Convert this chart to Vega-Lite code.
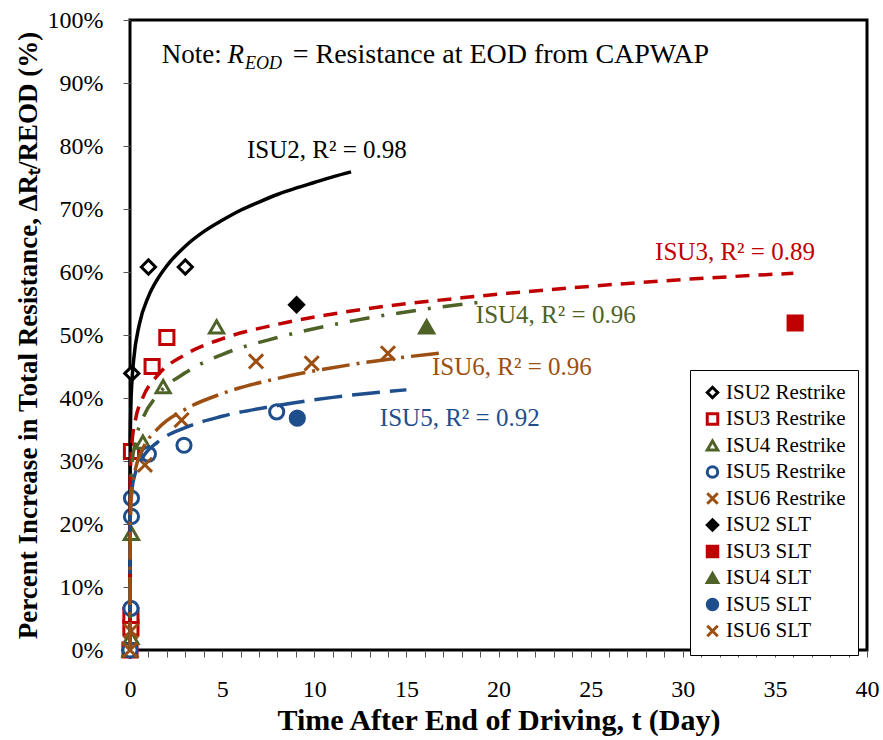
{
  "$schema": "https://vega.github.io/schema/vega-lite/v6.json",
  "width": 737,
  "height": 630,
  "autosize": {"type": "none"},
  "padding": {"left": 130, "top": 20, "right": 16, "bottom": 90},
  "background": "white",
  "config": {
    "font": "Liberation Serif",
    "style": {"guide-label": {"font": "Liberation Serif"}, "guide-title": {"font": "Liberation Serif"}},
    "view": {"stroke": "black", "strokeWidth": 3},
    "axis": {"domain": false, "grid": false, "labelColor": "black", "titleColor": "black", "tickColor": "#555", "tickSize": 7, "labelFontSize": 24, "titleFontWeight": "bold", "labelFont": "Liberation Serif", "titleFont": "Liberation Serif"},
    "legend": {"labelFont": "Liberation Serif", "titleFont": "Liberation Serif", "labelFontSize": 21, "labelColor": "black", "symbolSize": 110, "symbolStrokeWidth": 3, "rowPadding": 3.5, "labelOffset": 3, "padding": 12, "strokeColor": "black", "fillColor": "white"}
  },
  "datasets": {
    "pts": [
      {"t": 0, "r": 0, "s": "ISU2 Restrike"},
      {"t": 0.1, "r": 43.9, "s": "ISU2 Restrike"},
      {"t": 1.0, "r": 60.8, "s": "ISU2 Restrike"},
      {"t": 3.0, "r": 60.8, "s": "ISU2 Restrike"},
      {"t": 0, "r": 0, "s": "ISU3 Restrike"},
      {"t": 0.05, "r": 3.5, "s": "ISU3 Restrike"},
      {"t": 0.05, "r": 5.5, "s": "ISU3 Restrike"},
      {"t": 0.08, "r": 31.5, "s": "ISU3 Restrike"},
      {"t": 1.2, "r": 45.0, "s": "ISU3 Restrike"},
      {"t": 2.0, "r": 49.6, "s": "ISU3 Restrike"},
      {"t": 0, "r": 0, "s": "ISU4 Restrike"},
      {"t": 0.05, "r": 2.0, "s": "ISU4 Restrike"},
      {"t": 0.08, "r": 18.5, "s": "ISU4 Restrike"},
      {"t": 0.7, "r": 33.0, "s": "ISU4 Restrike"},
      {"t": 1.8, "r": 41.8, "s": "ISU4 Restrike"},
      {"t": 4.7, "r": 51.3, "s": "ISU4 Restrike"},
      {"t": 0, "r": 0, "s": "ISU5 Restrike"},
      {"t": 0.05, "r": 6.6, "s": "ISU5 Restrike"},
      {"t": 0.08, "r": 21.2, "s": "ISU5 Restrike"},
      {"t": 0.08, "r": 24.1, "s": "ISU5 Restrike"},
      {"t": 1.0, "r": 31.1, "s": "ISU5 Restrike"},
      {"t": 2.93, "r": 32.5, "s": "ISU5 Restrike"},
      {"t": 7.96, "r": 37.8, "s": "ISU5 Restrike"},
      {"t": 0, "r": 0, "s": "ISU6 Restrike"},
      {"t": 0.05, "r": 3.0, "s": "ISU6 Restrike"},
      {"t": 0.81, "r": 29.4, "s": "ISU6 Restrike"},
      {"t": 2.8, "r": 36.5, "s": "ISU6 Restrike"},
      {"t": 6.84, "r": 45.8, "s": "ISU6 Restrike"},
      {"t": 9.86, "r": 45.5, "s": "ISU6 Restrike"},
      {"t": 9.04, "r": 54.8, "s": "ISU2 SLT"},
      {"t": 36.1, "r": 51.9, "s": "ISU3 SLT"},
      {"t": 16.1, "r": 51.3, "s": "ISU4 SLT"},
      {"t": 9.08, "r": 36.8, "s": "ISU5 SLT"},
      {"t": 14.0, "r": 47.1, "s": "ISU6 SLT"}
    ],
    "fit2": [
      {"t": 0, "r": 0}, {"t": 0.0001, "r": 18.3}, {"t": 0.001, "r": 24.2}, {"t": 0.01, "r": 32.0}, {"t": 0.05, "r": 39.0}, {"t": 0.1, "r": 42.4}, {"t": 0.2, "r": 46.1}, {"t": 0.5, "r": 51.6}, {"t": 1, "r": 56.1}, {"t": 1.5, "r": 58.9}, {"t": 2, "r": 61.0}, {"t": 3, "r": 64.1}, {"t": 4, "r": 66.4}, {"t": 5, "r": 68.2}, {"t": 6, "r": 69.8}, {"t": 7, "r": 71.1}, {"t": 8, "r": 72.3}, {"t": 9, "r": 73.3}, {"t": 10, "r": 74.2}, {"t": 11, "r": 75.1}, {"t": 12, "r": 75.9}
    ],
    "fit3": [
      {"t": 0, "r": 0}, {"t": 0.0001, "r": 16.5}, {"t": 0.001, "r": 20.8}, {"t": 0.01, "r": 26.2}, {"t": 0.05, "r": 30.6}, {"t": 0.1, "r": 32.7}, {"t": 0.3, "r": 36.6}, {"t": 0.7, "r": 40.1}, {"t": 1.5, "r": 43.6}, {"t": 3, "r": 46.9}, {"t": 5, "r": 49.4}, {"t": 8, "r": 51.7}, {"t": 12, "r": 53.8}, {"t": 18, "r": 55.9}, {"t": 24, "r": 57.5}, {"t": 30, "r": 58.8}, {"t": 36, "r": 59.8}
    ],
    "fit4": [
      {"t": 0, "r": 0}, {"t": 0.0001, "r": 12.5}, {"t": 0.001, "r": 16.5}, {"t": 0.01, "r": 21.9}, {"t": 0.05, "r": 26.7}, {"t": 0.1, "r": 29.1}, {"t": 0.3, "r": 33.2}, {"t": 0.7, "r": 36.8}, {"t": 1.5, "r": 40.5}, {"t": 3, "r": 44.0}, {"t": 5, "r": 46.9}, {"t": 8, "r": 49.6}, {"t": 12, "r": 52.2}, {"t": 16, "r": 54.1}, {"t": 19, "r": 55.2}
    ],
    "fit5": [
      {"t": 0, "r": 0}, {"t": 0.0001, "r": 12.9}, {"t": 0.001, "r": 16.1}, {"t": 0.01, "r": 20.2}, {"t": 0.05, "r": 23.6}, {"t": 0.1, "r": 25.3}, {"t": 0.3, "r": 28.2}, {"t": 0.7, "r": 30.6}, {"t": 1.5, "r": 33.0}, {"t": 3, "r": 35.3}, {"t": 5, "r": 37.1}, {"t": 8, "r": 38.8}, {"t": 11, "r": 40.1}, {"t": 15, "r": 41.3}
    ],
    "fit6": [
      {"t": 0, "r": 0}, {"t": 0.0001, "r": 10.8}, {"t": 0.001, "r": 14.4}, {"t": 0.01, "r": 19.0}, {"t": 0.05, "r": 23.1}, {"t": 0.1, "r": 25.2}, {"t": 0.3, "r": 28.8}, {"t": 0.7, "r": 32.0}, {"t": 1.5, "r": 35.1}, {"t": 3, "r": 38.2}, {"t": 5, "r": 40.7}, {"t": 8, "r": 43.1}, {"t": 12, "r": 45.3}, {"t": 17, "r": 47.2}
    ],
    "one": [{"k": 1}]
  },
  "layer": [
    {
      "data": {"name": "pts"},
      "mark": {"type": "point", "filled": false, "strokeWidth": 3, "size": 200, "opacity": 1},
      "encoding": {
        "x": {"field": "t", "type": "quantitative", "scale": {"domain": [0, 40], "nice": false}, "axis": {"title": "Time After End of Driving, t (Day)", "titleFontSize": 30, "values": [0,1,2,3,4,5,6,7,8,9,10,11,12,13,14,15,16,17,18,19,20,21,22,23,24,25,26,27,28,29,30,31,32,33,34,35,36,37,38,39,40], "labelExpr": "datum.value % 5 === 0 ? datum.label : ''", "labelPadding": 20, "titlePadding": 4, "labelFlush": false}},
        "y": {"field": "r", "type": "quantitative", "scale": {"domain": [0, 100], "nice": false}, "axis": {"title": "Percent Increase in Total Resistance, ΔRₜ/REOD (%)", "titleFontSize": 27, "values": [0,10,20,30,40,50,60,70,80,90,100], "labelExpr": "datum.value + '%'", "labelPadding": 20, "titlePadding": 5, "labelFlush": false}},
        "shape": {"field": "s", "type": "nominal", "title": null,
          "scale": {"domain": ["ISU2 Restrike", "ISU3 Restrike", "ISU4 Restrike", "ISU5 Restrike", "ISU6 Restrike", "ISU2 SLT", "ISU3 SLT", "ISU4 SLT", "ISU5 SLT", "ISU6 SLT"],
            "range": ["diamond", "square", "triangle-up", "circle", "M-1,-1L1,1M-1,1L1,-1", "diamond", "square", "triangle-up", "circle", "M-1,-1L1,1M-1,1L1,-1"]},
          "legend": {"orient": "none", "legendX": 560, "legendY": 350, "labelFont": "Liberation Serif", "labelFontSize": 21}},
        "color": {"field": "s", "type": "nominal", "title": null,
          "scale": {"domain": ["ISU2 Restrike", "ISU3 Restrike", "ISU4 Restrike", "ISU5 Restrike", "ISU6 Restrike", "ISU2 SLT", "ISU3 SLT", "ISU4 SLT", "ISU5 SLT", "ISU6 SLT"],
            "range": ["#000000", "#C00000", "#4F6228", "#1F4E8C", "#9C4F12", "#000000", "#C00000", "#4F6228", "#1F4E8C", "#9C4F12"]},
          "legend": {"orient": "none", "legendX": 560, "legendY": 350, "labelFont": "Liberation Serif", "labelFontSize": 21}},
        "fill": {"field": "s", "type": "nominal", "title": null,
          "scale": {"domain": ["ISU2 Restrike", "ISU3 Restrike", "ISU4 Restrike", "ISU5 Restrike", "ISU6 Restrike", "ISU2 SLT", "ISU3 SLT", "ISU4 SLT", "ISU5 SLT", "ISU6 SLT"],
            "range": ["#ffffff", "#ffffff", "#ffffff", "#ffffff", "#ffffff", "#000000", "#C00000", "#4F6228", "#1F4E8C", "#9C4F12"]},
          "legend": {"orient": "none", "legendX": 560, "legendY": 350, "labelFont": "Liberation Serif", "labelFontSize": 21}}
      }
    },
    {"data": {"name": "fit2"}, "mark": {"type": "line", "stroke": "#000000", "strokeWidth": 3.5, "interpolate": "monotone"}, "encoding": {
      "x": {"field": "t", "type": "quantitative", "scale": {"domain": [0, 40], "nice": false}, "axis": {"title": "Time After End of Driving, t (Day)", "titleFontSize": 30, "values": [0,1,2,3,4,5,6,7,8,9,10,11,12,13,14,15,16,17,18,19,20,21,22,23,24,25,26,27,28,29,30,31,32,33,34,35,36,37,38,39,40], "labelExpr": "datum.value % 5 === 0 ? datum.label : ''", "labelPadding": 20, "titlePadding": 4, "labelFlush": false}},
      "y": {"field": "r", "type": "quantitative", "scale": {"domain": [0, 100], "nice": false}, "axis": {"title": "Percent Increase in Total Resistance, ΔRₜ/REOD (%)", "titleFontSize": 27, "values": [0,10,20,30,40,50,60,70,80,90,100], "labelExpr": "datum.value + '%'", "labelPadding": 20, "titlePadding": 5, "labelFlush": false}}}},
    {"data": {"name": "fit3"}, "mark": {"type": "line", "stroke": "#C00000", "strokeWidth": 3.5, "strokeDash": [14, 9], "interpolate": "monotone"}, "encoding": {
      "x": {"field": "t", "type": "quantitative", "scale": {"domain": [0, 40], "nice": false}, "axis": {"title": "Time After End of Driving, t (Day)", "titleFontSize": 30, "values": [0,1,2,3,4,5,6,7,8,9,10,11,12,13,14,15,16,17,18,19,20,21,22,23,24,25,26,27,28,29,30,31,32,33,34,35,36,37,38,39,40], "labelExpr": "datum.value % 5 === 0 ? datum.label : ''", "labelPadding": 20, "titlePadding": 4, "labelFlush": false}},
      "y": {"field": "r", "type": "quantitative", "scale": {"domain": [0, 100], "nice": false}, "axis": {"title": "Percent Increase in Total Resistance, ΔRₜ/REOD (%)", "titleFontSize": 27, "values": [0,10,20,30,40,50,60,70,80,90,100], "labelExpr": "datum.value + '%'", "labelPadding": 20, "titlePadding": 5, "labelFlush": false}}}},
    {"data": {"name": "fit4"}, "mark": {"type": "line", "stroke": "#4F6228", "strokeWidth": 3.5, "strokeDash": [20, 12, 3, 12], "interpolate": "monotone"}, "encoding": {
      "x": {"field": "t", "type": "quantitative", "scale": {"domain": [0, 40], "nice": false}, "axis": {"title": "Time After End of Driving, t (Day)", "titleFontSize": 30, "values": [0,1,2,3,4,5,6,7,8,9,10,11,12,13,14,15,16,17,18,19,20,21,22,23,24,25,26,27,28,29,30,31,32,33,34,35,36,37,38,39,40], "labelExpr": "datum.value % 5 === 0 ? datum.label : ''", "labelPadding": 20, "titlePadding": 4, "labelFlush": false}},
      "y": {"field": "r", "type": "quantitative", "scale": {"domain": [0, 100], "nice": false}, "axis": {"title": "Percent Increase in Total Resistance, ΔRₜ/REOD (%)", "titleFontSize": 27, "values": [0,10,20,30,40,50,60,70,80,90,100], "labelExpr": "datum.value + '%'", "labelPadding": 20, "titlePadding": 5, "labelFlush": false}}}},
    {"data": {"name": "fit5"}, "mark": {"type": "line", "stroke": "#1F4E8C", "strokeWidth": 3.5, "strokeDash": [28, 10], "interpolate": "monotone"}, "encoding": {
      "x": {"field": "t", "type": "quantitative", "scale": {"domain": [0, 40], "nice": false}, "axis": {"title": "Time After End of Driving, t (Day)", "titleFontSize": 30, "values": [0,1,2,3,4,5,6,7,8,9,10,11,12,13,14,15,16,17,18,19,20,21,22,23,24,25,26,27,28,29,30,31,32,33,34,35,36,37,38,39,40], "labelExpr": "datum.value % 5 === 0 ? datum.label : ''", "labelPadding": 20, "titlePadding": 4, "labelFlush": false}},
      "y": {"field": "r", "type": "quantitative", "scale": {"domain": [0, 100], "nice": false}, "axis": {"title": "Percent Increase in Total Resistance, ΔRₜ/REOD (%)", "titleFontSize": 27, "values": [0,10,20,30,40,50,60,70,80,90,100], "labelExpr": "datum.value + '%'", "labelPadding": 20, "titlePadding": 5, "labelFlush": false}}}},
    {"data": {"name": "fit6"}, "mark": {"type": "line", "stroke": "#9C4F12", "strokeWidth": 3.5, "strokeDash": [28, 7, 3, 7], "interpolate": "monotone"}, "encoding": {
      "x": {"field": "t", "type": "quantitative", "scale": {"domain": [0, 40], "nice": false}, "axis": {"title": "Time After End of Driving, t (Day)", "titleFontSize": 30, "values": [0,1,2,3,4,5,6,7,8,9,10,11,12,13,14,15,16,17,18,19,20,21,22,23,24,25,26,27,28,29,30,31,32,33,34,35,36,37,38,39,40], "labelExpr": "datum.value % 5 === 0 ? datum.label : ''", "labelPadding": 20, "titlePadding": 4, "labelFlush": false}},
      "y": {"field": "r", "type": "quantitative", "scale": {"domain": [0, 100], "nice": false}, "axis": {"title": "Percent Increase in Total Resistance, ΔRₜ/REOD (%)", "titleFontSize": 27, "values": [0,10,20,30,40,50,60,70,80,90,100], "labelExpr": "datum.value + '%'", "labelPadding": 20, "titlePadding": 5, "labelFlush": false}}}},
    {"data": {"name": "one"}, "mark": {"type": "text", "text": "ISU2, R² = 0.98", "font": "Liberation Serif", "fontSize": 25, "align": "left", "baseline": "middle", "color": "#000000"}, "encoding": {
      "x": {"datum": 6.35, "type": "quantitative", "scale": {"domain": [0, 40], "nice": false}, "axis": {"title": "Time After End of Driving, t (Day)", "titleFontSize": 30, "values": [0,1,2,3,4,5,6,7,8,9,10,11,12,13,14,15,16,17,18,19,20,21,22,23,24,25,26,27,28,29,30,31,32,33,34,35,36,37,38,39,40], "labelExpr": "datum.value % 5 === 0 ? datum.label : ''", "labelPadding": 20, "titlePadding": 4, "labelFlush": false}},
      "y": {"datum": 79.4, "type": "quantitative", "scale": {"domain": [0, 100], "nice": false}, "axis": {"title": "Percent Increase in Total Resistance, ΔRₜ/REOD (%)", "titleFontSize": 27, "values": [0,10,20,30,40,50,60,70,80,90,100], "labelExpr": "datum.value + '%'", "labelPadding": 20, "titlePadding": 5, "labelFlush": false}}}},
    {"data": {"name": "one"}, "mark": {"type": "text", "text": "ISU3, R² = 0.89", "font": "Liberation Serif", "fontSize": 25, "align": "left", "baseline": "middle", "color": "#C00000"}, "encoding": {
      "x": {"datum": 28.5, "type": "quantitative", "scale": {"domain": [0, 40], "nice": false}, "axis": {"title": "Time After End of Driving, t (Day)", "titleFontSize": 30, "values": [0,1,2,3,4,5,6,7,8,9,10,11,12,13,14,15,16,17,18,19,20,21,22,23,24,25,26,27,28,29,30,31,32,33,34,35,36,37,38,39,40], "labelExpr": "datum.value % 5 === 0 ? datum.label : ''", "labelPadding": 20, "titlePadding": 4, "labelFlush": false}},
      "y": {"datum": 63.2, "type": "quantitative", "scale": {"domain": [0, 100], "nice": false}, "axis": {"title": "Percent Increase in Total Resistance, ΔRₜ/REOD (%)", "titleFontSize": 27, "values": [0,10,20,30,40,50,60,70,80,90,100], "labelExpr": "datum.value + '%'", "labelPadding": 20, "titlePadding": 5, "labelFlush": false}}}},
    {"data": {"name": "one"}, "mark": {"type": "text", "text": "ISU4, R² = 0.96", "font": "Liberation Serif", "fontSize": 25, "align": "left", "baseline": "middle", "color": "#4F6228"}, "encoding": {
      "x": {"datum": 18.77, "type": "quantitative", "scale": {"domain": [0, 40], "nice": false}, "axis": {"title": "Time After End of Driving, t (Day)", "titleFontSize": 30, "values": [0,1,2,3,4,5,6,7,8,9,10,11,12,13,14,15,16,17,18,19,20,21,22,23,24,25,26,27,28,29,30,31,32,33,34,35,36,37,38,39,40], "labelExpr": "datum.value % 5 === 0 ? datum.label : ''", "labelPadding": 20, "titlePadding": 4, "labelFlush": false}},
      "y": {"datum": 53.2, "type": "quantitative", "scale": {"domain": [0, 100], "nice": false}, "axis": {"title": "Percent Increase in Total Resistance, ΔRₜ/REOD (%)", "titleFontSize": 27, "values": [0,10,20,30,40,50,60,70,80,90,100], "labelExpr": "datum.value + '%'", "labelPadding": 20, "titlePadding": 5, "labelFlush": false}}}},
    {"data": {"name": "one"}, "mark": {"type": "text", "text": "ISU6, R² = 0.96", "font": "Liberation Serif", "fontSize": 25, "align": "left", "baseline": "middle", "color": "#9C4F12"}, "encoding": {
      "x": {"datum": 16.39, "type": "quantitative", "scale": {"domain": [0, 40], "nice": false}, "axis": {"title": "Time After End of Driving, t (Day)", "titleFontSize": 30, "values": [0,1,2,3,4,5,6,7,8,9,10,11,12,13,14,15,16,17,18,19,20,21,22,23,24,25,26,27,28,29,30,31,32,33,34,35,36,37,38,39,40], "labelExpr": "datum.value % 5 === 0 ? datum.label : ''", "labelPadding": 20, "titlePadding": 4, "labelFlush": false}},
      "y": {"datum": 44.9, "type": "quantitative", "scale": {"domain": [0, 100], "nice": false}, "axis": {"title": "Percent Increase in Total Resistance, ΔRₜ/REOD (%)", "titleFontSize": 27, "values": [0,10,20,30,40,50,60,70,80,90,100], "labelExpr": "datum.value + '%'", "labelPadding": 20, "titlePadding": 5, "labelFlush": false}}}},
    {"data": {"name": "one"}, "mark": {"type": "text", "text": "ISU5, R² = 0.92", "font": "Liberation Serif", "fontSize": 25, "align": "left", "baseline": "middle", "color": "#1F4E8C"}, "encoding": {
      "x": {"datum": 13.56, "type": "quantitative", "scale": {"domain": [0, 40], "nice": false}, "axis": {"title": "Time After End of Driving, t (Day)", "titleFontSize": 30, "values": [0,1,2,3,4,5,6,7,8,9,10,11,12,13,14,15,16,17,18,19,20,21,22,23,24,25,26,27,28,29,30,31,32,33,34,35,36,37,38,39,40], "labelExpr": "datum.value % 5 === 0 ? datum.label : ''", "labelPadding": 20, "titlePadding": 4, "labelFlush": false}},
      "y": {"datum": 36.8, "type": "quantitative", "scale": {"domain": [0, 100], "nice": false}, "axis": {"title": "Percent Increase in Total Resistance, ΔRₜ/REOD (%)", "titleFontSize": 27, "values": [0,10,20,30,40,50,60,70,80,90,100], "labelExpr": "datum.value + '%'", "labelPadding": 20, "titlePadding": 5, "labelFlush": false}}}},
    {"data": {"name": "one"}, "mark": {"type": "text", "text": "Note: ", "font": "Liberation Serif", "fontSize": 27, "align": "left", "baseline": "alphabetic", "color": "black"}, "encoding": {
      "x": {"datum": 1.72, "type": "quantitative", "scale": {"domain": [0, 40], "nice": false}, "axis": {"title": "Time After End of Driving, t (Day)", "titleFontSize": 30, "values": [0,1,2,3,4,5,6,7,8,9,10,11,12,13,14,15,16,17,18,19,20,21,22,23,24,25,26,27,28,29,30,31,32,33,34,35,36,37,38,39,40], "labelExpr": "datum.value % 5 === 0 ? datum.label : ''", "labelPadding": 20, "titlePadding": 4, "labelFlush": false}},
      "y": {"datum": 93.2, "type": "quantitative", "scale": {"domain": [0, 100], "nice": false}, "axis": {"title": "Percent Increase in Total Resistance, ΔRₜ/REOD (%)", "titleFontSize": 27, "values": [0,10,20,30,40,50,60,70,80,90,100], "labelExpr": "datum.value + '%'", "labelPadding": 20, "titlePadding": 5, "labelFlush": false}}}},
    {"data": {"name": "one"}, "mark": {"type": "text", "text": "R", "font": "Liberation Serif", "fontSize": 27, "fontStyle": "italic", "align": "left", "baseline": "alphabetic", "color": "black"}, "encoding": {
      "x": {"datum": 5.29, "type": "quantitative", "scale": {"domain": [0, 40], "nice": false}, "axis": {"title": "Time After End of Driving, t (Day)", "titleFontSize": 30, "values": [0,1,2,3,4,5,6,7,8,9,10,11,12,13,14,15,16,17,18,19,20,21,22,23,24,25,26,27,28,29,30,31,32,33,34,35,36,37,38,39,40], "labelExpr": "datum.value % 5 === 0 ? datum.label : ''", "labelPadding": 20, "titlePadding": 4, "labelFlush": false}},
      "y": {"datum": 93.2, "type": "quantitative", "scale": {"domain": [0, 100], "nice": false}, "axis": {"title": "Percent Increase in Total Resistance, ΔRₜ/REOD (%)", "titleFontSize": 27, "values": [0,10,20,30,40,50,60,70,80,90,100], "labelExpr": "datum.value + '%'", "labelPadding": 20, "titlePadding": 5, "labelFlush": false}}}},
    {"data": {"name": "one"}, "mark": {"type": "text", "text": "EOD", "font": "Liberation Serif", "fontSize": 18, "fontStyle": "italic", "align": "left", "baseline": "alphabetic", "color": "black"}, "encoding": {
      "x": {"datum": 6.24, "type": "quantitative", "scale": {"domain": [0, 40], "nice": false}, "axis": {"title": "Time After End of Driving, t (Day)", "titleFontSize": 30, "values": [0,1,2,3,4,5,6,7,8,9,10,11,12,13,14,15,16,17,18,19,20,21,22,23,24,25,26,27,28,29,30,31,32,33,34,35,36,37,38,39,40], "labelExpr": "datum.value % 5 === 0 ? datum.label : ''", "labelPadding": 20, "titlePadding": 4, "labelFlush": false}},
      "y": {"datum": 92.2, "type": "quantitative", "scale": {"domain": [0, 100], "nice": false}, "axis": {"title": "Percent Increase in Total Resistance, ΔRₜ/REOD (%)", "titleFontSize": 27, "values": [0,10,20,30,40,50,60,70,80,90,100], "labelExpr": "datum.value + '%'", "labelPadding": 20, "titlePadding": 5, "labelFlush": false}}}},
    {"data": {"name": "one"}, "mark": {"type": "text", "text": "= Resistance at EOD from CAPWAP", "font": "Liberation Serif", "fontSize": 28, "align": "left", "baseline": "alphabetic", "color": "black"}, "encoding": {
      "x": {"datum": 8.83, "type": "quantitative", "scale": {"domain": [0, 40], "nice": false}, "axis": {"title": "Time After End of Driving, t (Day)", "titleFontSize": 30, "values": [0,1,2,3,4,5,6,7,8,9,10,11,12,13,14,15,16,17,18,19,20,21,22,23,24,25,26,27,28,29,30,31,32,33,34,35,36,37,38,39,40], "labelExpr": "datum.value % 5 === 0 ? datum.label : ''", "labelPadding": 20, "titlePadding": 4, "labelFlush": false}},
      "y": {"datum": 93.2, "type": "quantitative", "scale": {"domain": [0, 100], "nice": false}, "axis": {"title": "Percent Increase in Total Resistance, ΔRₜ/REOD (%)", "titleFontSize": 27, "values": [0,10,20,30,40,50,60,70,80,90,100], "labelExpr": "datum.value + '%'", "labelPadding": 20, "titlePadding": 5, "labelFlush": false}}}}
  ]
}
